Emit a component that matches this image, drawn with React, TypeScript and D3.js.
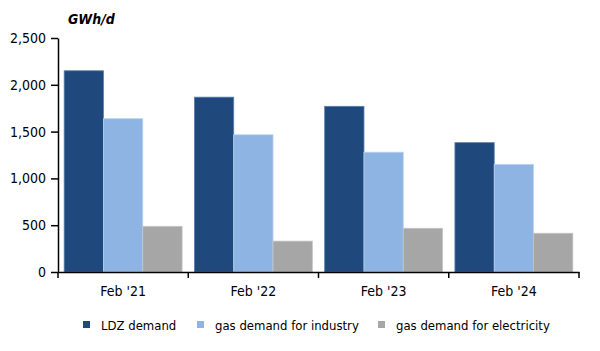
import { useEffect, useRef } from "react";
import * as d3 from "d3";

const categories = ["Feb '21", "Feb '22", "Feb '23", "Feb '24"];
const seriesNames = ["LDZ demand", "gas demand for industry", "gas demand for electricity"];
const ldzDemand = [2150, 1868, 1770, 1382];
const industryDemand = [1638, 1466, 1280, 1150];
const electricityDemand = [488, 330, 467, 414];
const yTicks = [0, 500, 1000, 1500, 2000, 2500];

const colors = ["#1f497d", "#8db4e2", "#a6a6a6"];
const strokes = ["#5a7fae", "#bcd3ef", "#c4c4c4"];

export default function App() {
  const svgRef = useRef<SVGSVGElement>(null);

  useEffect(() => {
    if (!svgRef.current) return;
    const width = 600;
    const height = 351;
    const margin = { top: 38, right: 21, bottom: 79, left: 58 };
    const font = "Tahoma, 'DejaVu Sans Condensed', 'DejaVu Sans', sans-serif";

    const svg = d3.select(svgRef.current);
    svg.selectAll("*").remove();

    const x = d3.scaleBand().domain(categories).range([margin.left, width - margin.right]).paddingInner(0).paddingOuter(0);
    const inner = d3.scaleBand().domain(seriesNames).range([0, x.bandwidth()]).paddingOuter(0.157).paddingInner(0);
    const y = d3.scaleLinear().domain([0, 2500]).range([height - margin.bottom, margin.top]);

    const series = [ldzDemand, industryDemand, electricityDemand];

    // bars
    series.forEach((vals, si) => {
      svg.append("g")
        .selectAll("rect")
        .data(vals)
        .join("rect")
        .attr("x", (_, i) => x(categories[i])! + inner(seriesNames[si])!)
        .attr("y", d => y(d))
        .attr("width", inner.bandwidth())
        .attr("height", d => y(0) - y(d))
        .attr("fill", colors[si])
        .attr("stroke", strokes[si])
        .attr("stroke-width", 0.8);
    });

    // y axis
    const yAxis = svg.append("g")
      .attr("transform", `translate(${margin.left},0)`)
      .call(d3.axisLeft(y).tickValues(yTicks).tickFormat(d3.format(",")).tickSize(7).tickSizeOuter(0));
    yAxis.select(".domain").attr("stroke", "#000").attr("stroke-width", 1.5);
    yAxis.selectAll(".tick line").attr("stroke", "#000").attr("stroke-width", 1.5);
    yAxis.selectAll(".tick text")
      .attr("x", -12)
      .attr("fill", "#000")
      .style("font-family", font)
      .style("font-size", "14px");

    // x axis
    const xAxis = svg.append("g")
      .attr("transform", `translate(0,${y(0)})`)
      .call(d3.axisBottom(x).tickSize(0).tickSizeOuter(0));
    xAxis.select(".domain").attr("stroke", "#000").attr("stroke-width", 1.5);
    xAxis.selectAll(".tick text")
      .attr("y", 14)
      .attr("fill", "#000")
      .style("font-family", font)
      .style("font-size", "14px");
    // category separators
    const bounds = categories.map(c => x(c)!).concat([x(categories[categories.length - 1])! + x.bandwidth()]);
    svg.append("g")
      .selectAll("line")
      .data(bounds)
      .join("line")
      .attr("x1", d => d).attr("x2", d => d)
      .attr("y1", y(0)).attr("y2", y(0) + 6)
      .attr("stroke", "#000").attr("stroke-width", 1.5);

    // unit label
    svg.append("text")
      .attr("x", 68)
      .attr("y", 24)
      .text("GWh/d")
      .style("font-family", font)
      .style("font-size", "14px")
      .style("font-weight", "bold")
      .style("font-style", "italic");

    // legend
    const legendX = [83, 197, 378];
    const legend = svg.append("g").attr("transform", "translate(0,325)");
    seriesNames.forEach((name, i) => {
      legend.append("rect")
        .attr("x", legendX[i]).attr("y", -4)
        .attr("width", 7).attr("height", 7)
        .attr("fill", colors[i]);
      legend.append("text")
        .attr("x", legendX[i] + 18)
        .attr("y", 0)
        .attr("dy", "0.35em")
        .text(name)
        .style("font-family", font)
        .style("font-size", "13px");
    });
  }, []);

  return (
    <div style={{ margin: -8 }}>
      <svg ref={svgRef} width={600} height={351} style={{ display: "block", background: "#fff" }} />
    </div>
  );
}
